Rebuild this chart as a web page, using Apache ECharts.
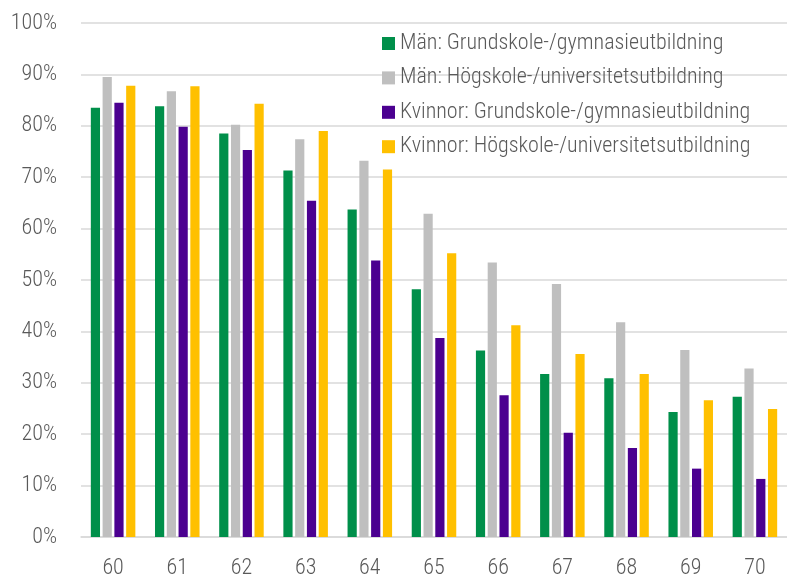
<!DOCTYPE html>
<html>
<head>
<meta charset="utf-8">
<script src="https://cdn.jsdelivr.net/npm/echarts@6/dist/echarts.min.js"></script>
<style>html,body{margin:0;padding:0;background:#fff}#c{width:787px;height:579px}</style>
</head>
<body>
<div id="c"></div>
<script>
var categories = ['60','61','62','63','64','65','66','67','68','69','70'];
var seriesNames = [
  'Män: Grundskole-/gymnasieutbildning',
  'Män: Högskole-/universitetsutbildning',
  'Kvinnor: Grundskole-/gymnasieutbildning',
  'Kvinnor: Högskole-/universitetsutbildning'
];
var manGrund = [83.5, 83.8, 78.5, 71.3, 63.7, 48.2, 36.3, 31.7, 30.9, 24.3, 27.3];
var manHog = [89.5, 86.7, 80.2, 77.4, 73.2, 62.9, 53.4, 49.2, 41.8, 36.4, 32.8];
var kvGrund = [84.5, 79.8, 75.3, 65.4, 53.8, 38.7, 27.6, 20.3, 17.3, 13.3, 11.3];
var kvHog = [87.8, 87.7, 84.3, 79.0, 71.5, 55.2, 41.2, 35.6, 31.7, 26.6, 24.9];
var colors = ['#008f4a', '#bfbfbf', '#4b0090', '#ffc000'];

var FONT = "'Roboto Condensed', sans-serif";
var chart = echarts.init(document.getElementById('c'), null, {renderer: 'canvas'});
var dataSets = [manGrund, manHog, kvGrund, kvHog];
chart.setOption({
  animation: false,
  color: colors,
  grid: {left: 81, right: -7, top: 23, bottom: 40.5},
  legend: {
    orient: 'vertical',
    left: 382,
    top: 32.5,
    padding: 0,
    itemWidth: 13,
    itemHeight: 13,
    itemGap: 12.4,
    icon: 'rect',
    textStyle: {fontFamily: FONT, fontSize: 22, fontWeight: 300, color: '#595959', lineHeight: 22},
    data: seriesNames
  },
  xAxis: {
    type: 'category',
    data: categories,
    axisLine: {show: true, lineStyle: {color: '#d9d9d9', width: 1.5}},
    axisTick: {show: false},
    axisLabel: {fontFamily: FONT, fontSize: 22, fontWeight: 300, color: '#595959', margin: 20}
  },
  yAxis: {
    type: 'value',
    min: 0, max: 100, interval: 10,
    axisLine: {show: false},
    axisTick: {show: false},
    splitLine: {lineStyle: {color: '#d9d9d9', width: 1.5}},
    axisLabel: {fontFamily: FONT, fontSize: 22, fontWeight: 300, color: '#595959', margin: 24, formatter: '{value}%'}
  },
  series: dataSets.map(function (d, i) {
    return {
      name: seriesNames[i],
      type: 'bar',
      data: d,
      barWidth: 9.2,
      barGap: '28%',
      itemStyle: {color: colors[i]}
    };
  })
});
</script>
</body>
</html>
